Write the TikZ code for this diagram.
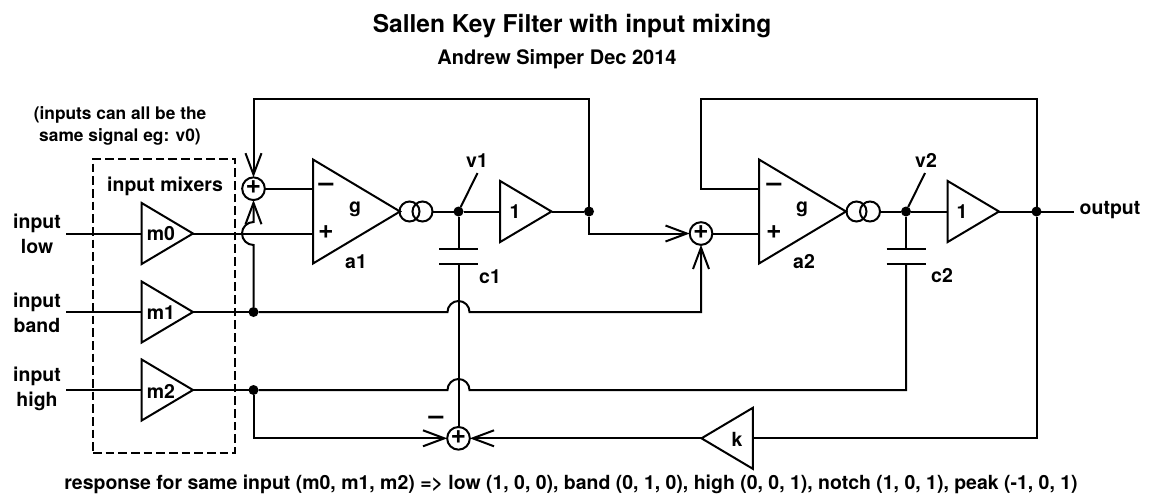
\documentclass[tikz,border=0pt]{standalone}
\usepackage{fontspec}
\setmainfont{TeX Gyre Heros}
\usetikzlibrary{arrows.meta,shapes.geometric}
\tikzset{
    wire/.style={line width=1.5pt},
    sumarrow/.style={wire,-{Straight Barb[length=16pt,width=12pt,line width=1.5pt]}},
    amp/.style={draw,line width=1.5pt,shape=isosceles triangle,isosceles triangle stretches,inner sep=0pt,outer sep=0pt,anchor=apex},
    bigamp/.style={amp,minimum height=65.25pt,minimum width=78pt},
    smallamp/.style={amp,minimum height=38.5pt,minimum width=45.75pt},
    sumnode/.style={draw,line width=1.5pt,circle,inner sep=0pt,outer sep=0pt,minimum size=17pt},
    gmnode/.style={draw,line width=1.5pt,circle,inner sep=0pt,outer sep=0pt,minimum size=15pt},
    dotnode/.style={fill=black,circle,inner sep=0pt,outer sep=0pt,minimum size=7.5pt},
    txt/.style={inner sep=0.75pt,align=center,font=\bfseries\fontsize{14.6}{18.75}\selectfont},
    signtxt/.style={inner sep=0.75pt,font=\bfseries\fontsize{20}{20}\selectfont},
}
\begin{document}
\begin{tikzpicture}[x=0.75pt,y=0.75pt,yscale=-1,xscale=1]
    \useasboundingbox (0,0) rectangle (1151,501);
    %Shape: Dashed box
    \node [draw,wire,dash pattern=on 6.5pt off 3pt,minimum width=106.5pt,minimum height=220.5pt,inner sep=0pt,outer sep=0pt] (mixbox) at (164,306) {};

    %Shape: Triangles
    \node [smallamp] (m0) at (193,233.5) {};
    \node [smallamp] (m1) at (193,312) {};
    \node [smallamp] (m2) at (193,390) {};
    \node [bigamp] (a1) at (400,211.5) {};
    \node [bigamp] (a2) at (846,211.5) {};
    \node [smallamp] (buf1) at (551.5,211.5) {};
    \node [smallamp] (buf2) at (999,211.5) {};
    \node [smallamp,shape border rotate=180] (k) at (701.5,438.3) {};

    %Shape: Circles
    \node [sumnode] (sumA) at (253.5,188.7) {};
    \node [sumnode] (sumB) at (701,233.5) {};
    \node [sumnode] (sumC) at (458.5,438.3) {};
    \node [signtxt] (sumAplus) at (253.5,187.5) {+};
    \node [signtxt] (sumBplus) at (701,232.3) {+};
    \node [signtxt] (sumCplus) at (458.5,437.1) {+};
    \node [gmnode] (gm1a) at (409.5,211.5) {};
    \node [gmnode] (gm1b) at (422.5,211.5) {};
    \node [gmnode] (gm2a) at (856.5,211.5) {};
    \node [gmnode] (gm2b) at (870,211.5) {};
    \node [dotnode] (v1dot) at (458.5,211.5) {};
    \node [dotnode] (v2dot) at (906,211.5) {};
    \node [dotnode] (buf1dot) at (589,211.5) {};
    \node [dotnode] (outdot) at (1036.5,211.5) {};
    \node [dotnode] (m1dot) at (253.5,312) {};
    \node [dotnode] (m2dot) at (253.5,390) {};

    %Coordinates
    \coordinate (in0) at (66,233.5);
    \coordinate (in1) at (66,312);
    \coordinate (in2) at (66,390);
    \coordinate (out) at (1074,211.5);
    \coordinate (a1minus) at (313,188.7);
    \coordinate (a1plus) at (313,233.5);
    \coordinate (a2minus) at (760,188.7);
    \coordinate (a2plus) at (760,233.5);
    \coordinate (v1tap) at (477.5,173);
    \coordinate (v2tap) at (925,173);
    \coordinate (c1top) at (458.5,248.5);
    \coordinate (c1bot) at (458.5,263.5);
    \coordinate (c2top) at (906,248.5);
    \coordinate (c2bot) at (906,263.5);
    \coordinate (fbA) at (253.5,99.3);
    \coordinate (fbB) at (701,99.3);
    \coordinate (jumpA) at (253.5,245);
    \coordinate (jumpB) at (447.5,312);
    \coordinate (jumpC) at (447.5,390);
    \coordinate (buf1turn) at (589,233.5);

    %Straight Lines
    \draw [wire] (in0) -- (m0.lower side);
    \draw [wire] (in1) -- (m1.lower side);
    \draw [wire] (in2) -- (m2.lower side);
    \draw [wire] (m0.apex) -- (a1plus);
    \draw [wire] (m1.apex) -- (m1dot);
    \draw [wire] (m2.apex) -- (m2dot);
    \draw [wire] (sumA) -- (a1minus);
    \draw [wire] (sumB) -- (a2plus);
    \draw [wire] (v1dot) -- (gm1b);
    \draw [wire] (v1dot) -- (buf1.lower side);
    \draw [wire] (buf1.apex) -- (buf1dot);
    \draw [wire] (v2dot) -- (gm2b);
    \draw [wire] (v2dot) -- (buf2.lower side);
    \draw [wire] (buf2.apex) -- (out);
    \draw [wire] (v1dot) -- (v1tap);
    \draw [wire] (v2dot) -- (v2tap);
    \draw [wire] (v1dot) -- (c1top);
    \draw [wire] (v2dot) -- (c2top);
    \draw [wire] (c1top) ++(-19.5,0) -- ++(39,0);
    \draw [wire] (c1bot) ++(-19.5,0) -- ++(39,0);
    \draw [wire] (c2top) ++(-19.5,0) -- ++(39,0);
    \draw [wire] (c2bot) ++(-19.5,0) -- ++(39,0);
    \draw [wire] (c1bot) -- (sumC);
    \draw [wire] (outdot) |- (fbB) |- (a2minus);
    \draw [wire] (outdot) |- (k.lower side);

    %Arrows
    \draw [sumarrow] (buf1dot) |- (fbA) -- (sumA);
    \draw [sumarrow] (m1dot) -- (jumpA) arc[start angle=90,end angle=270,radius=11.5] -- (sumA);
    \draw [sumarrow] (buf1dot) -- (buf1turn) -- (sumB);
    \draw [sumarrow] (m2dot) |- (sumC);
    \draw [sumarrow] (k.apex) -- (sumC);

    %Jumps over the c1 wire
    \draw [sumarrow] (m1dot) -- (jumpB) arc[start angle=180,end angle=360,radius=11] -| (sumB);
    \draw [wire] (m2dot) -- (jumpC) arc[start angle=180,end angle=360,radius=11] -| (c2bot);

    % Text Node
    \node [txt,font=\bfseries\fontsize{18.4}{20}\selectfont] (title) at (572,26) {Sallen Key Filter with input mixing};
    \node [txt,font=\bfseries\fontsize{15}{18}\selectfont] (author) at (557,59) {Andrew Simper Dec 2014};
    \node [txt,font=\bfseries\fontsize{13}{16.5}\selectfont] (note) at (120,126) {(inputs can all be the\\same signal eg: v0)};
    \node [txt] (mixlabel) at (165,186) {input mixers};
    \node [txt] (lowlabel) at (37,233.5) {input\\low};
    \node [txt] (bandlabel) at (37,312.5) {input\\band};
    \node [txt] (highlabel) at (37,388.5) {input\\high};
    \node [txt] (m0label) at (161,234) {m0};
    \node [txt] (m1label) at (161,313) {m1};
    \node [txt] (m2label) at (161,391) {m2};
    \node [txt] (a1gain) at (355,209) {g};
    \node [txt] (a2gain) at (802,209) {g};
    \node [txt] (a1label) at (356,262) {a1};
    \node [txt] (a2label) at (804,262) {a2};
    \node [signtxt] (a1neg) at (326,187) {–};
    \node [signtxt] (a1pos) at (326,232) {+};
    \node [signtxt] (a2neg) at (774,187) {–};
    \node [signtxt] (a2pos) at (774,232) {+};
    \node [txt] (buf1gain) at (515,212) {1};
    \node [txt] (buf2gain) at (962,212) {1};
    \node [txt] (v1label) at (477,161) {v1};
    \node [txt] (v2label) at (926,160) {v2};
    \node [txt] (c1label) at (490,277) {c1};
    \node [txt] (c2label) at (942,276) {c2};
    \node [txt] (klabel) at (737,439) {k};
    \node [signtxt] (sumneg) at (436,420) {–};
    \node [txt] (outlabel) at (1110,210) {output};
    \node [txt] (response) at (571,484) {response for same input (m0, m1, m2) => low (1, 0, 0), band (0, 1, 0), high (0, 0, 1), notch (1, 0, 1), peak (-1, 0, 1)};
\end{tikzpicture}
\end{document}
